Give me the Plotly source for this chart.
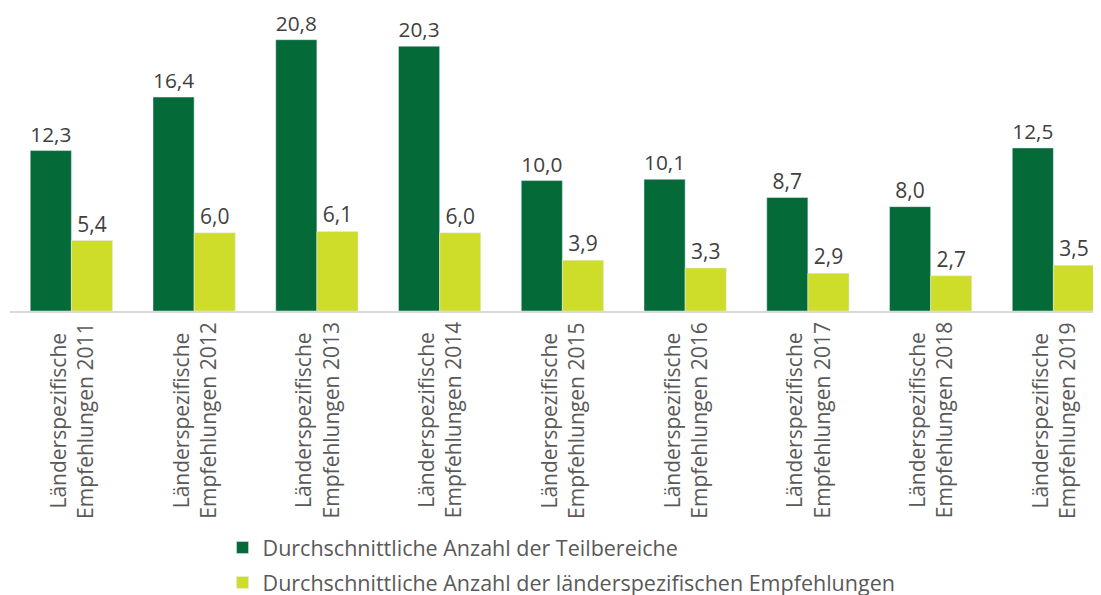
import plotly.graph_objects as go

categories = [f"Länderspezifische<br>Empfehlungen {y}" for y in range(2011, 2020)]
teilbereiche = [12.3, 16.4, 20.8, 20.3, 10.0, 10.1, 8.7, 8.0, 12.5]
empfehlungen = [5.4, 6.0, 6.1, 6.0, 3.9, 3.3, 2.9, 2.7, 3.5]
series_names = ["Durchschnittliche Anzahl der Teilbereiche",
                "Durchschnittliche Anzahl der länderspezifischen Empfehlungen"]
colors = ["#046A38", "#CEDC2A"]

FONT = "Open Sans"
fig = go.Figure()
for name, vals, col, grp in zip(series_names, [teilbereiche, empfehlungen], colors, ["a", "b"]):
    fig.add_trace(go.Bar(
        x=list(range(len(categories))), y=vals, name=name, marker_color=col,
        legendgroup=grp,
        texttemplate="%{y:.1f}", textposition="outside", cliponaxis=False,
        textfont=dict(family=FONT, size=21, color="#404040"),
    ))

for i, c in enumerate(categories):
    fig.add_annotation(x=i, xref="x", y=-0.365, yref="paper", text=c,
                       textangle=-90, showarrow=False, xanchor="center", yanchor="middle",
                       align="center", font=dict(family=FONT, size=21, color="#595959"))

fig.update_layout(
    width=1101, height=595, separators=",.",
    margin=dict(l=2, r=0, t=3, b=291),
    plot_bgcolor="white", paper_bgcolor="white",
    barmode="group", bargap=0.33, bargroupgap=0,
    showlegend=True,
    legend=dict(x=0.1934, y=-0.721, xanchor="left", yanchor="top", orientation="v",
                font=dict(family=FONT, size=21.5, color="#595959"), tracegroupgap=4),
    xaxis=dict(range=[-0.5, 8.453], showticklabels=False, showgrid=False, zeroline=False,
               showline=True, linecolor="#D9D9D9", linewidth=1.5, ticks=""),
    yaxis=dict(range=[0, 23], visible=False),
)
fig.write_html("out.html")
